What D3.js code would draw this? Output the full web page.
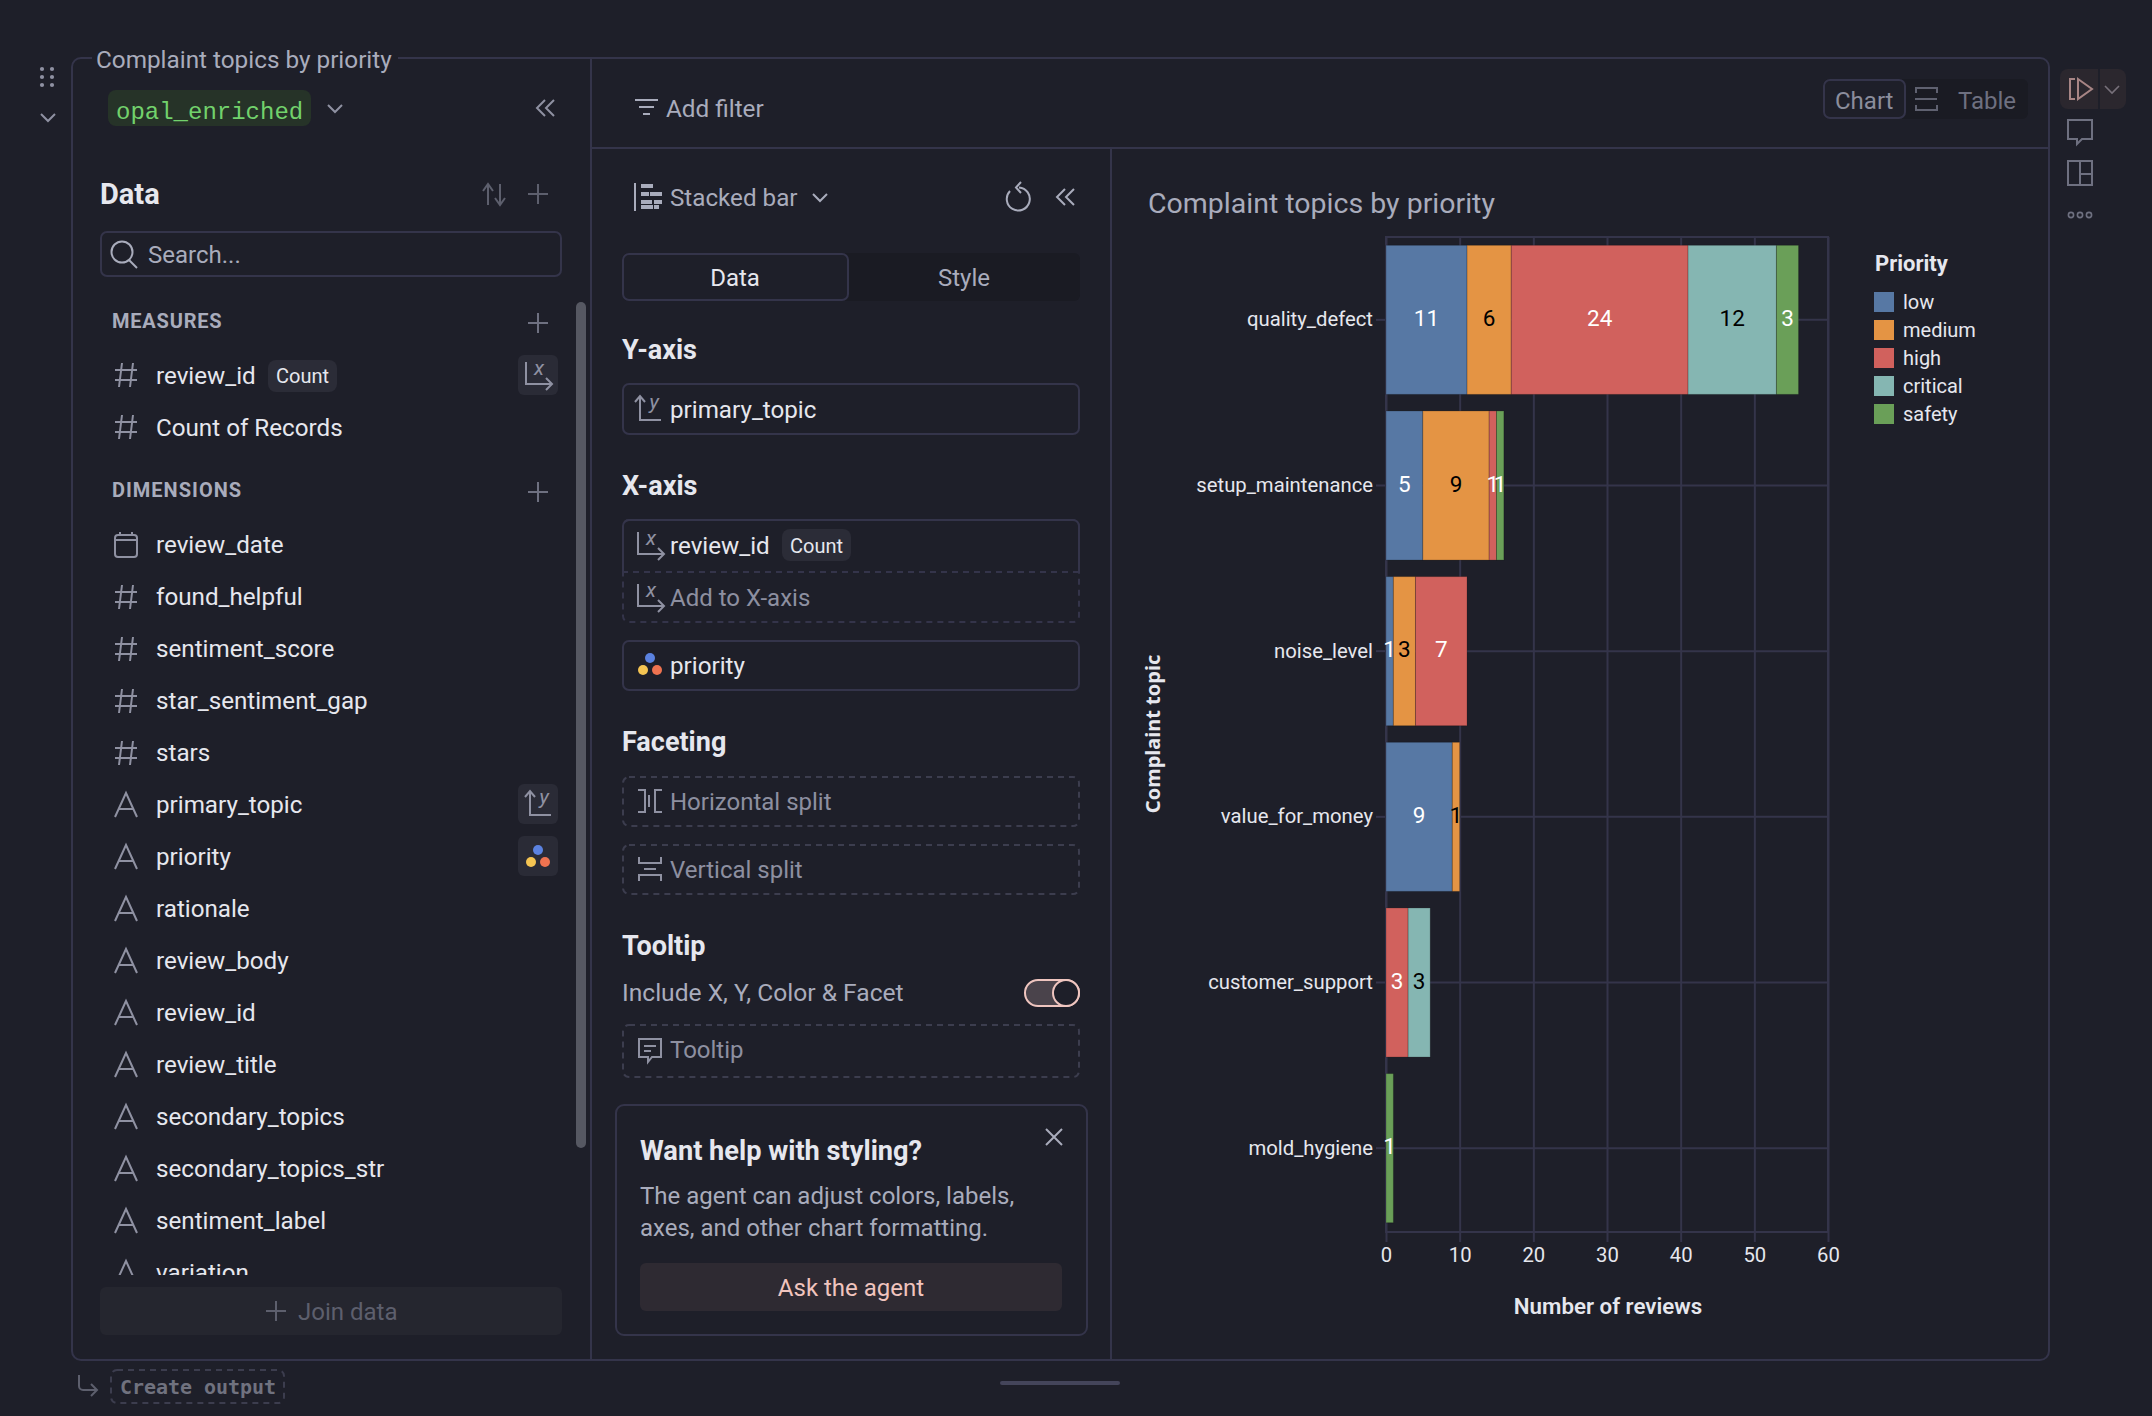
<!DOCTYPE html>
<html>
<head>
<meta charset="utf-8">
<script src="https://cdn.jsdelivr.net/npm/d3@7"></script>
<style>
  html, body { margin: 0; padding: 0; background: #1e1f29; }
  svg { display: block; }
  text { font-family: Roboto, sans-serif; }
</style>
</head>
<body>
<svg id="page" width="2152" height="1416"></svg>
<script>
// chart values
const categories = ['quality_defect', 'setup_maintenance', 'noise_level', 'value_for_money', 'customer_support', 'mold_hygiene'];
const priorities = ['low', 'medium', 'high', 'critical', 'safety'];
const lowValues = [11, 5, 1, 9, 0, 0];
const mediumValues = [6, 9, 3, 1, 0, 0];
const highValues = [24, 1, 7, 0, 3, 0];
const criticalValues = [12, 0, 0, 0, 3, 0];
const safetyValues = [3, 1, 0, 0, 0, 1];
const priorityColors = ['#5778a4', '#e49444', '#d1615d', '#85b6b2', '#6a9f58'];
const labelColors = ['#ffffff', '#000000', '#ffffff', '#000000', '#ffffff'];
const xTicks = [0, 10, 20, 30, 40, 50, 60];

// side panel field lists
const measureFields = ['review_id', 'Count of Records'];
const dimensionFields = [
  ['review_date', 'date'], ['found_helpful', 'num'], ['sentiment_score', 'num'],
  ['star_sentiment_gap', 'num'], ['stars', 'num'], ['primary_topic', 'str'],
  ['priority', 'str'], ['rationale', 'str'], ['review_body', 'str'], ['review_id', 'str'],
  ['review_title', 'str'], ['secondary_topics', 'str'], ['secondary_topics_str', 'str'],
  ['sentiment_label', 'str'], ['variation', 'str']
];

const LINE = '#34344a';
const TEXT = '#e6e7ee';
const MUTED = '#a9acbc';
const DIM = '#5d5f6d';
const ICON = '#8f91a2';

const svg = d3.select('#page');

svg.append('defs').append('clipPath').attr('id', 'field-clip')
  .append('rect').attr('x', 100).attr('y', 300).attr('width', 470).attr('height', 975);

function label(parent, x, y, str, size, color, opts) {
  opts = opts || {};
  const t = parent.append('text')
    .attr('x', x).attr('y', y)
    .attr('font-size', size)
    .attr('fill', color)
    .text(str);
  if (opts.weight) t.attr('font-weight', opts.weight);
  if (opts.anchor) t.attr('text-anchor', opts.anchor);
  if (opts.family) t.style('font-family', opts.family);
  if (opts.spacing) t.attr('letter-spacing', opts.spacing);
  if (opts.style) t.attr('font-style', opts.style);
  return t;
}

// coordinates are the outer edges, a stroked box is inset by half its stroke
function box(parent, x0, y0, x1, y1, opts) {
  opts = opts || {};
  const inset = opts.stroke ? 1 : 0;
  const r = parent.append('rect')
    .attr('x', x0 + inset).attr('y', y0 + inset)
    .attr('width', x1 - x0 - 2 * inset).attr('height', y1 - y0 - 2 * inset)
    .attr('rx', opts.rx === undefined ? 6 : opts.rx)
    .attr('fill', opts.fill || 'none');
  if (opts.stroke) r.attr('stroke', opts.stroke).attr('stroke-width', opts.width || 2);
  if (opts.dash) r.attr('stroke-dasharray', opts.dash);
  return r;
}

function icon(parent, cx, cy, d, color, width) {
  return parent.append('path')
    .attr('transform', `translate(${cx},${cy})`)
    .attr('d', d)
    .attr('fill', 'none')
    .attr('stroke', color || ICON)
    .attr('stroke-width', width || 2);
}

const HASH = 'M-4 -12 L-7 12 M7 -12 L4 12 M-11 -5 H11 M-11 5 H11';
const LETTER_A = 'M-11 12 L0 -12 L11 12 M-7 4 H7';
const CALENDAR = 'M-11 -7 a3 3 0 0 1 3 -3 H8 a3 3 0 0 1 3 3 V9 a3 3 0 0 1 -3 3 H-8 a3 3 0 0 1 -3 -3 Z M-11 -5 H11 M-6 -13 V-9 M6 -13 V-9';
const PLUS = 'M-10 0 H10 M0 -10 V10';
const CHEVRON = 'M-7 -4 L0 3 L7 -4';
const DOUBLE_LEFT = 'M-1 -8 L-9 0 L-1 8 M8 -8 L0 0 L8 8';

function xAxisIcon(parent, cx, cy, color) {
  icon(parent, cx, cy, 'M-12 -13 V9 H13 M8 3 L14 9 L8 15', color);
  label(parent, cx + 1, cy, 'x', 21, color, { anchor: 'middle', style: 'italic' });
}

function yAxisIcon(parent, cx, cy, color) {
  icon(parent, cx, cy, 'M-13 -7 L-8 -13 L-3 -7 M-8 -13 V11 H13', color);
  label(parent, cx + 6, cy, 'y', 21, color, { anchor: 'middle', style: 'italic' });
}

function colorDots(parent, cx, cy) {
  const dots = [[0, -7, '#5b82e0'], [-7, 5, '#f4c452'], [7, 5, '#ef7350']];
  dots.forEach(d => {
    parent.append('circle')
      .attr('cx', cx + d[0]).attr('cy', cy + d[1]).attr('r', 5).attr('fill', d[2]);
  });
}

/**
 * Frame around the whole cell
 */
function drawFrame() {
  const g = svg.append('g');
  box(g, 71, 57, 2050, 1361, { stroke: LINE, rx: 9 });
  g.append('rect').attr('x', 92).attr('y', 48).attr('width', 306).attr('height', 24).attr('fill', '#1e1f29');
  label(g, 96, 68, 'Complaint topics by priority', 24.3, MUTED);
  g.append('path')
    .attr('d', 'M591 58 V1360 M591 148 H2049 M1111 148 V1360')
    .attr('stroke', LINE).attr('stroke-width', 2).attr('fill', 'none');

  // drag grip at the left
  [69, 77, 85].forEach(y => {
    [42, 52].forEach(x => {
      g.append('circle').attr('cx', x).attr('cy', y).attr('r', 2.1).attr('fill', ICON);
    });
  });
  icon(g, 48, 118, CHEVRON, ICON);

  // below the frame
  icon(g, 87, 1385, 'M-8 -10 V1 a4 4 0 0 0 4 4 H9 M4 -1 L10 5 L4 11', DIM);
  box(g, 110, 1369, 285, 1404, { stroke: '#3c3d4e', dash: '6 5' });
  label(g, 120, 1394, 'Create output', 20, '#70727f', { family: '"DejaVu Sans Mono", monospace', weight: 700 }).attr('textLength', 156);
  g.append('rect').attr('x', 1000).attr('y', 1381).attr('width', 120).attr('height', 4).attr('rx', 2).attr('fill', '#44455a');
}

/**
 * Fields panel on the left
 */
function drawFieldPanel() {
  const g = svg.append('g');
  box(g, 108, 90, 311, 126, { fill: '#263328', rx: 8 });
  label(g, 116, 119, 'opal_enriched', 24, '#72d26c', { family: '"Liberation Mono", monospace' });
  icon(g, 335, 109, CHEVRON, ICON);
  icon(g, 546, 108, DOUBLE_LEFT, ICON);

  label(g, 100, 204, 'Data', 29, TEXT, { weight: 700 });
  icon(g, 494, 194, 'M-11 -3 L-6 -10 L-1 -3 M-6 -10 V11 M1 4 L6 11 L11 4 M6 -10 V11', DIM);
  icon(g, 538, 194, PLUS, DIM);

  box(g, 100, 231, 562, 277, { stroke: LINE });
  g.append('circle').attr('cx', 122).attr('cy', 252).attr('r', 10.5).attr('fill', 'none').attr('stroke', MUTED).attr('stroke-width', 2);
  icon(g, 0, 0, 'M129 260 L137 268', MUTED);
  label(g, 148, 263, 'Search...', 24, MUTED);

  box(g, 576, 302, 586, 1148, { fill: '#565862', rx: 5 });

  label(g, 112, 328, 'MEASURES', 20, MUTED, { weight: 700, spacing: 0.8 });
  icon(g, 538, 323, PLUS, '#6e7080');
  measureFields.forEach((name, i) => {
    const y = 384 + i * 52;
    icon(g, 126, y - 9, HASH, ICON);
    label(g, 156, y, name, 24.2, TEXT);
  });
  box(g, 268, 360, 337, 392, { fill: '#2b2c37', rx: 8 });
  label(g, 276, 383, 'Count', 20, TEXT);
  box(g, 518, 355, 558, 395, { fill: '#2a2b36', rx: 6 });
  xAxisIcon(g, 538, 375, ICON);

  label(g, 112, 497, 'DIMENSIONS', 20, MUTED, { weight: 700, spacing: 1 });
  icon(g, 538, 492, PLUS, '#6e7080');

  const rows = g.append('g').attr('clip-path', 'url(#field-clip)');
  dimensionFields.forEach((field, i) => {
    const y = 553 + i * 52;
    const path = field[1] === 'num' ? HASH : field[1] === 'date' ? CALENDAR : LETTER_A;
    icon(rows, 126, y - 8, path, ICON);
    label(rows, 156, y, field[0], 24.2, TEXT);
  });
  box(g, 518, 784, 558, 824, { fill: '#2a2b36', rx: 6 });
  yAxisIcon(g, 538, 804, ICON);
  box(g, 518, 836, 558, 876, { fill: '#2a2b36', rx: 6 });
  colorDots(g, 538, 857);

  box(g, 100, 1287, 562, 1335, { fill: '#25262f' });
  icon(g, 276, 1311, PLUS, DIM);
  label(g, 298, 1320, 'Join data', 24, DIM);
}

/**
 * Chart settings panel in the middle
 */
function drawSettingsPanel() {
  const g = svg.append('g');
  const left = 622;
  const right = 1080;

  icon(g, 646, 106, 'M-11 -6 H12 M-7 1 H8 M-3 8 H4', MUTED);
  label(g, 666, 117, 'Add filter', 24.3, MUTED);

  // chart type row
  icon(g, 635, 197, 'M0 -14 V14', MUTED);
  [[641, 183, 12], [641, 191, 8], [650, 191, 12], [641, 199, 11], [654, 199, 8], [641, 204, 12], [654, 204, 5]].forEach(d => {
    g.append('rect').attr('x', d[0]).attr('y', d[1] + 1).attr('width', d[2]).attr('height', 4).attr('fill', MUTED);
  });
  label(g, 670, 206, 'Stacked bar', 24.2, MUTED);
  icon(g, 820, 198, CHEVRON, MUTED);
  icon(g, 1018, 199, 'M-8 -8 A11.5 11.5 0 1 0 1 -11.5 M3 -17 L-2 -11.5 L3 -6', MUTED);
  icon(g, 1066, 197, DOUBLE_LEFT, MUTED);

  // tabs
  box(g, left, 253, right, 301, { fill: '#1a1b23', rx: 6 });
  box(g, left, 253, 849, 301, { fill: '#1e1f29', stroke: LINE });
  label(g, 735, 286, 'Data', 24, TEXT, { anchor: 'middle' });
  label(g, 964, 286, 'Style', 24, MUTED, { anchor: 'middle' });

  label(g, left, 359, 'Y-axis', 27, TEXT, { weight: 700 });
  box(g, left, 383, right, 435, { stroke: LINE });
  yAxisIcon(g, 648, 409, ICON);
  label(g, 670, 418, 'primary_topic', 24.2, TEXT);

  label(g, left, 495, 'X-axis', 27, TEXT, { weight: 700 });
  box(g, left, 519, right, 623, { stroke: LINE, dash: '6 5' });
  g.append('path').attr('d', `M${left + 7} 520 H${right - 7} a6 6 0 0 1 6 6 V572 M${left + 1} 572 V526 a6 6 0 0 1 6 -6`)
    .attr('stroke', LINE).attr('stroke-width', 2).attr('fill', 'none');
  g.append('path').attr('d', `M${left} 572 H${right}`).attr('stroke', LINE).attr('stroke-width', 2).attr('stroke-dasharray', '6 5').attr('fill', 'none');
  xAxisIcon(g, 650, 545, ICON);
  label(g, 670, 554, 'review_id', 24.2, TEXT);
  box(g, 782, 529, 851, 561, { fill: '#2b2c37', rx: 8 });
  label(g, 790, 553, 'Count', 20, TEXT);
  xAxisIcon(g, 650, 597, ICON);
  label(g, 670, 606, 'Add to X-axis', 24, '#8d8fa0');

  box(g, left, 640, right, 691, { stroke: LINE });
  colorDots(g, 650, 665);
  label(g, 670, 674, 'priority', 24.2, TEXT);

  label(g, left, 751, 'Faceting', 27, TEXT, { weight: 700 });
  box(g, left, 776, right, 827, { stroke: '#3c3d4e', dash: '6 5' });
  icon(g, 650, 801, 'M-12 -11 H-5 V11 H-12 M12 -11 H5 V11 H12 M-1 -6 V6', ICON);
  label(g, 670, 810, 'Horizontal split', 24, '#8d8fa0');
  box(g, left, 844, right, 895, { stroke: '#3c3d4e', dash: '6 5' });
  icon(g, 650, 869, 'M-11 -12 V-6 H11 V-12 M-11 12 V6 H11 V12 M-6 0 H6', ICON);
  label(g, 670, 878, 'Vertical split', 24, '#8d8fa0');

  label(g, left, 955, 'Tooltip', 27, TEXT, { weight: 700 });
  label(g, left, 1001, 'Include X, Y, Color & Facet', 24.6, MUTED);
  box(g, 1024, 979, 1080, 1007, { fill: '#4a434b', stroke: '#efc5bf', rx: 13 });
  g.append('circle').attr('cx', 1066).attr('cy', 993).attr('r', 13).attr('fill', '#1e1f29').attr('stroke', '#efc5bf').attr('stroke-width', 2);
  box(g, left, 1024, right, 1078, { stroke: '#3c3d4e', dash: '6 5' });
  icon(g, 650, 1050, 'M-11 -11 H11 V7 H2 L-2 12 V7 H-11 Z M-6 -4 H6 M-6 1 H1', ICON);
  label(g, 670, 1058, 'Tooltip', 24, '#8d8fa0');

  // help card
  box(g, 615, 1104, 1088, 1336, { stroke: LINE, rx: 8 });
  label(g, 640, 1160, 'Want help with styling?', 27.2, TEXT, { weight: 700 });
  label(g, 640, 1204, 'The agent can adjust colors, labels,', 24, MUTED);
  label(g, 640, 1236, 'axes, and other chart formatting.', 24, MUTED);
  icon(g, 1054, 1137, 'M-8 -8 L8 8 M8 -8 L-8 8', MUTED);
  box(g, 640, 1263, 1062, 1311, { fill: '#2e2a32' });
  label(g, 851, 1296, 'Ask the agent', 24, '#f0c4be', { anchor: 'middle' });
}

/**
 * Toolbar pieces on the right of the chart
 */
function drawToolbar() {
  const g = svg.append('g');
  box(g, 1823, 79, 2028, 119, { fill: '#1a1b23', rx: 6 });
  box(g, 1823, 79, 1906, 119, { fill: '#1e1f29', stroke: LINE });
  label(g, 1835, 109, 'Chart', 24, '#8b8d9c');
  icon(g, 1926, 99, 'M-10 -6 V-11 H11 V-6 M-10 6 V11 H11 V6 M-11 0 H11', '#5f6170');
  label(g, 1958, 109, 'Table', 24, '#6e7080');

  box(g, 2060, 69, 2126, 109, { fill: '#2b272e', rx: 8 });
  g.append('path').attr('d', 'M2099 69 V109').attr('stroke', '#1e1f29').attr('stroke-width', 2);
  icon(g, 2080, 89, 'M-5 -10 H-10 V10 H-5 M-2 -10 L12 0 L-2 10 Z', '#a78585');
  icon(g, 2112, 90, CHEVRON, '#77707a', 1.6);
  icon(g, 2080, 132, 'M-12 -12 H12 V7 H2 L-3 12 V7 H-12 Z', '#6e7080');
  icon(g, 2080, 173, 'M-12 -12 H12 V12 H-12 Z M0 -12 V12 M0 1 H12', '#6e7080');
  [2071, 2080, 2089].forEach(x => {
    g.append('circle').attr('cx', x).attr('cy', 215).attr('r', 2.6).attr('fill', 'none').attr('stroke', '#6e7080').attr('stroke-width', 1.6);
  });
}

/**
 * The stacked bar chart itself
 */
function drawChart() {
  const plot = { left: 1386, right: 1828, top: 237, bottom: 1232 };

  const rows = categories.map((name, i) => ({
    name: name,
    low: lowValues[i],
    medium: mediumValues[i],
    high: highValues[i],
    critical: criticalValues[i],
    safety: safetyValues[i]
  }));
  const stacked = d3.stack().keys(priorities)(rows);

  const x = d3.scaleLinear().domain([0, 60]).range([plot.left, plot.right]);
  const y = d3.scaleBand().domain(categories).range([plot.top, plot.bottom - 1]).paddingInner(0.1).paddingOuter(0.05);
  const color = d3.scaleOrdinal().domain(priorities).range(priorityColors);
  const inkColor = d3.scaleOrdinal().domain(priorities).range(labelColors);

  const g = svg.append('g');
  label(g, 1148, 213, 'Complaint topics by priority', 28.5, MUTED);

  // grid goes under the bars
  const xAxis = d3.axisBottom(x).tickValues(xTicks).tickSize(plot.bottom - plot.top + 10).tickPadding(6);
  const xGroup = g.append('g').attr('transform', `translate(0,${plot.top})`).call(xAxis);
  const yAxis = d3.axisLeft(y).tickSize(10).tickPadding(3);
  const yGroup = g.append('g').attr('transform', `translate(${plot.left},0)`).call(yAxis);

  g.append('rect')
    .attr('x', plot.left).attr('y', plot.top)
    .attr('width', plot.right - plot.left).attr('height', plot.bottom - plot.top)
    .attr('fill', 'none').attr('stroke', LINE).attr('stroke-width', 2);

  g.selectAll('.row-line')
    .data(categories)
    .enter()
    .append('line')
    .attr('class', 'row-line')
    .attr('x1', plot.left).attr('x2', plot.right)
    .attr('y1', d => y(d) + y.bandwidth() / 2)
    .attr('y2', d => y(d) + y.bandwidth() / 2)
    .attr('stroke', LINE).attr('stroke-width', 2);

  [xGroup, yGroup].forEach(axis => {
    axis.select('.domain').remove();
    axis.selectAll('line').attr('stroke', LINE).attr('stroke-width', 2);
    axis.selectAll('text').attr('fill', TEXT).attr('font-size', 20.3).style('font-family', 'Roboto, sans-serif');
  });

  const layers = g.selectAll('.layer')
    .data(stacked)
    .enter()
    .append('g')
    .attr('class', 'layer')
    .attr('fill', d => color(d.key));

  layers.selectAll('rect')
    .data(d => d.filter(p => p[1] > p[0]))
    .enter()
    .append('rect')
    .attr('x', d => x(d[0]))
    .attr('y', d => y(d.data.name))
    .attr('width', d => x(d[1]) - x(d[0]))
    .attr('height', y.bandwidth())
    .attr('stroke', '#000000')
    .attr('stroke-opacity', 0.2)
    .attr('stroke-width', 1);

  // value labels on top of every bar
  stacked.forEach(layer => {
    g.selectAll(`.value-${layer.key}`)
      .data(layer.filter(p => p[1] > p[0]))
      .enter()
      .append('text')
      .attr('class', `value-${layer.key}`)
      .attr('x', d => x((d[0] + d[1]) / 2))
      .attr('y', d => y(d.data.name) + y.bandwidth() / 2 + 6)
      .attr('text-anchor', 'middle')
      .attr('font-size', 22.5)
      .attr('fill', inkColor(layer.key))
      .text(d => d[1] - d[0]);
  });

  label(g, 1608, 1314, 'Number of reviews', 22.3, TEXT, { anchor: 'middle', weight: 600 });
  label(g, 0, 0, 'Complaint topic', 20, TEXT, { anchor: 'middle', weight: 700, family: '"Noto Sans", sans-serif' })
    .attr('transform', 'translate(1160,734) rotate(-90)');

  // legend
  const legend = g.append('g');
  label(legend, 1875, 271, 'Priority', 22, TEXT, { weight: 700 });
  const legendY = d3.scalePoint().domain(priorities).range([292, 404]);
  priorities.forEach(p => {
    legend.append('rect')
      .attr('x', 1874).attr('y', legendY(p))
      .attr('width', 20).attr('height', 20)
      .attr('fill', color(p));
    label(legend, 1903, legendY(p) + 17, p, 20, TEXT);
  });
}

drawFrame();
drawFieldPanel();
drawSettingsPanel();
drawToolbar();
drawChart();
</script>
</body>
</html>
